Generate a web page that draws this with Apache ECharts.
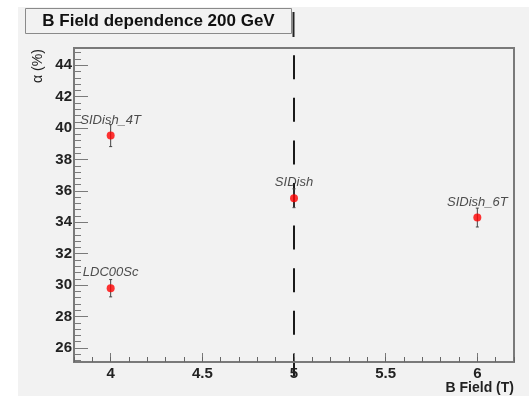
<!DOCTYPE html>
<html>
<head>
<meta charset="utf-8">
<script src="https://cdn.jsdelivr.net/npm/echarts@6/dist/echarts.min.js"></script>
<style>
html,body{margin:0;padding:0;background:#fff;}
#c{width:529px;height:396px;}
</style>
</head>
<body>
<div id="c"></div>
<script>
// ---- data ----
const detectors = ['LDC00Sc', 'SIDish_4T', 'SIDish', 'SIDish_6T'];
const bField = [4, 4, 5, 6];
const alpha = [29.8, 39.52, 35.53, 34.3];
const alphaErr = [0.55, 0.7, 0.6, 0.6];
const refField = 5;
const refLineRange = [44.64, 24.18];

const xRange = [3.8, 6.2];
const yRange = [25.1, 45.1];
const xMajorTicks = [4, 4.5, 5, 5.5, 6];
const xTickLabels = ['4', '4.5', '5', '5.5', '6'];
const xMinorStep = 0.1;
const yMajorTicks = [26, 28, 30, 32, 34, 36, 38, 40, 42, 44];
const yTickLabels = ['26', '28', '30', '32', '34', '36', '38', '40', '42', '44'];
const yMinorTicks = [25.2, 25.6, 26.4, 26.8, 27.2, 27.6, 28.4, 28.8, 29.2, 29.6, 30.4, 30.8, 31.2, 31.6,
  32.4, 32.8, 33.2, 33.6, 34.4, 34.8, 35.2, 35.6, 36.4, 36.8, 37.2, 37.6, 38.4, 38.8, 39.2, 39.6,
  40.4, 40.8, 41.2, 41.6, 42.4, 42.8, 43.2, 43.6, 44.4, 44.8];
const titleText = 'B Field dependence 200 GeV';
const xTitle = 'B Field (T)';
const yTitle = 'α (%)';

// ---- chart ----
const chart = echarts.init(document.getElementById('c'), null, {renderer: 'canvas'});
const FONT = '"Liberation Sans", Arial, Helvetica, sans-serif';
const gray = '#7a7a7a';
const points = bField.map((x, i) => [x, alpha[i], alphaErr[i], detectors[i]]);
const gridRect = {left: 74, right: 15, top: 48, bottom: 34};

const option = {
  backgroundColor: '#ffffff',
  animation: false,
  grid: [
    Object.assign({show: true, borderColor: gray, borderWidth: 2, backgroundColor: 'transparent'}, gridRect),
    Object.assign({show: false}, gridRect)
  ],
  xAxis: [
    {
      type: 'value', gridIndex: 0, min: xRange[0], max: xRange[1], position: 'bottom', z: 4,
      axisLine: {show: true, onZero: false, lineStyle: {color: gray, width: 2}},
      axisTick: {show: true, inside: true, length: 9, customValues: xMajorTicks, lineStyle: {color: gray, width: 1}},
      axisLabel: {show: true, customValues: xMajorTicks, formatter: v => xTickLabels[xMajorTicks.indexOf(+v.toFixed(2))] ?? '', fontFamily: FONT, fontWeight: 'bold', fontSize: 15, color: '#222', margin: 4},
      splitLine: {show: false}
    },
    {
      type: 'value', gridIndex: 1, min: xRange[0], max: xRange[1], interval: xMinorStep, position: 'bottom', z: 4,
      axisLine: {show: false, onZero: false},
      axisTick: {show: true, inside: true, length: 5, lineStyle: {color: '#666', width: 1}},
      axisLabel: {show: false},
      splitLine: {show: false}
    }
  ],
  yAxis: [
    {
      type: 'value', gridIndex: 0, min: yRange[0], max: yRange[1], position: 'left', z: 4,
      axisLine: {show: true, onZero: false, lineStyle: {color: gray, width: 2}},
      axisTick: {show: true, inside: true, length: 14, customValues: yMajorTicks, lineStyle: {color: gray, width: 1}},
      axisLabel: {show: true, customValues: yMajorTicks, formatter: v => yTickLabels[yMajorTicks.indexOf(Math.round(v))] ?? '', fontFamily: FONT, fontWeight: 'bold', fontSize: 15, color: '#222', margin: 2},
      splitLine: {show: false}
    },
    {
      type: 'value', gridIndex: 1, min: yRange[0], max: yRange[1], position: 'left', z: 4,
      axisLine: {show: false, onZero: false},
      axisTick: {show: true, inside: true, length: 7, customValues: yMinorTicks, lineStyle: {color: gray, width: 1}},
      axisLabel: {show: false},
      splitLine: {show: false}
    }
  ],
  graphic: [
    {type: 'rect', z: -10, silent: true, shape: {x: 18, y: 7, width: 511, height: 389}, style: {fill: '#f2f2f2'}},
    {type: 'rect', z: 10, shape: {x: 25.5, y: 8.5, width: 266, height: 25}, style: {fill: '#f2f2f2', stroke: '#8a8a8a', lineWidth: 1}},
    {type: 'line', z: 10, shape: {x1: 293.5, y1: 12, x2: 293.5, y2: 37}, style: {stroke: '#222', lineWidth: 2}},
    {type: 'text', z: 11, style: {text: titleText, x: 158.5, y: 21.5, align: 'center', verticalAlign: 'middle', font: 'bold 17px ' + FONT, fill: '#111'}},
    {type: 'text', z: 11, rotation: Math.PI / 2, x: 38, y: 66, style: {text: yTitle, align: 'center', verticalAlign: 'middle', font: '14px ' + FONT, fill: '#222'}},
    {type: 'text', z: 11, style: {text: xTitle, x: 514, y: 388, align: 'right', verticalAlign: 'middle', font: 'bold 14px ' + FONT, fill: '#222'}}
  ],
  series: [
    {
      type: 'custom',
      xAxisIndex: 0, yAxisIndex: 0,
      data: [[refField, refLineRange[0], refLineRange[1]]],
      clip: false,
      z: 2,
      silent: true,
      renderItem: function (params, api) {
        const a = api.coord([api.value(0), api.value(1)]);
        const b = api.coord([api.value(0), api.value(2)]);
        return {type: 'line', shape: {x1: a[0], y1: a[1], x2: b[0], y2: b[1]}, style: {stroke: '#1a1a1a', lineWidth: 2, lineDash: [24, 18.6]}};
      }
    },
    {
      type: 'custom',
      xAxisIndex: 0, yAxisIndex: 0,
      data: points,
      z: 3,
      renderItem: function (params, api) {
        const x = api.value(0), y = api.value(1), e = api.value(2);
        const top = api.coord([x, y + e]);
        const bot = api.coord([x, y - e]);
        const st = {stroke: '#444', lineWidth: 1};
        return {
          type: 'group',
          children: [
            {type: 'line', shape: {x1: top[0], y1: top[1], x2: bot[0], y2: bot[1]}, style: st},
            {type: 'line', shape: {x1: top[0] - 1.5, y1: top[1], x2: top[0] + 1.5, y2: top[1]}, style: st},
            {type: 'line', shape: {x1: bot[0] - 1.5, y1: bot[1], x2: bot[0] + 1.5, y2: bot[1]}, style: st}
          ]
        };
      }
    },
    {
      type: 'scatter',
      xAxisIndex: 0, yAxisIndex: 0,
      data: points,
      clip: false,
      z: 5,
      symbol: 'circle',
      symbolSize: 8,
      itemStyle: {color: '#ff0000'},
      label: {
        show: true, position: 'top', distance: 5,
        formatter: p => p.data[3],
        fontFamily: FONT, fontStyle: 'italic', fontSize: 13, color: '#222'
      }
    }
  ]
};
chart.setOption(option);
</script>
</body>
</html>
